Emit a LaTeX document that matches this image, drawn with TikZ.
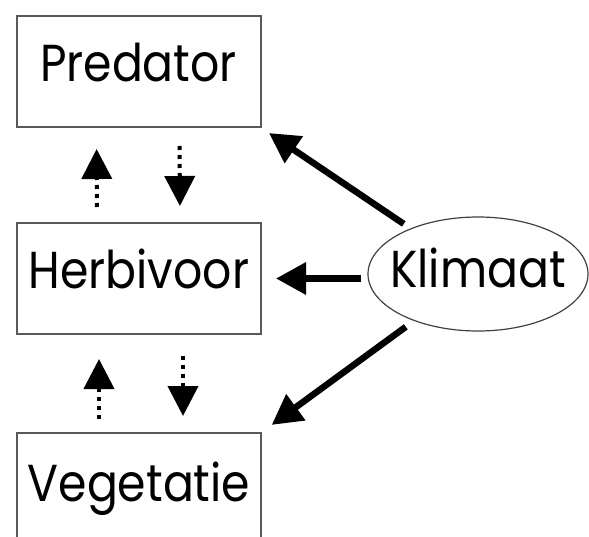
\documentclass[tikz,border=0pt]{standalone}
\usepackage{fontspec}
\setmainfont{Poppins}
\usetikzlibrary{arrows.meta,shapes.geometric}
\newcommand{\lbl}[1]{\makebox[0pt]{\scalebox{0.88}[1]{#1}}}
\begin{document}
\begin{tikzpicture}[x=1pt,y=-1pt,
  box/.style={draw=black!65,line width=2pt,minimum width=244pt,minimum height=111pt,inner sep=0pt,
    font=\fontsize{52}{60}\selectfont,text height=38pt,text depth=18pt},
  klimnode/.style={draw=black!75,ellipse,line width=1.2pt,minimum width=220pt,minimum height=114pt,inner sep=0pt,
    font=\fontsize{52}{60}\selectfont,text height=38pt,text depth=10pt},
  bigarrow/.style={line width=6.5pt,-{Triangle[length=30pt,width=31pt]}},
  dotarrow/.style={line width=4pt,dash pattern=on 4pt off 5pt,-{Triangle[length=30pt,width=30pt]}}
]
\useasboundingbox (0,0) rectangle (589,537);
\clip (0,0) rectangle (589,537);
\node[box] (pred) at (138.5,71.5) {\lbl{Predator}};
\node[box] (herb) at (139,278.5) {\lbl{Herbivoor}};
\node[box,text depth=12pt] (veg) at (139,488.5) {\lbl{Vegetatie}};
\node[klimnode] (klim) at (478,274) {\lbl{Klimaat}};
\draw[bigarrow,shorten <=8pt,shorten >=9pt] (klim) -- (pred.south east);
\draw[bigarrow,shorten >=14pt] ([xshift=-6pt]klim.west |- herb.east) -- (herb.east);
\draw[bigarrow,shorten <=10pt,shorten >=12pt] (klim) -- (veg.north east);
\draw[dotarrow,shorten <=15pt,shorten >=21pt] ([xshift=-42pt]herb.north) -- ([xshift=-42pt]pred.south);
\draw[dotarrow,shorten <=18pt,shorten >=16pt] ([xshift=41pt]pred.south) -- ([xshift=41pt]herb.north);
\draw[dotarrow,shorten <=13pt,shorten >=24pt] ([xshift=-40pt]veg.north) -- ([xshift=-40pt]herb.south);
\draw[dotarrow,shorten <=21pt,shorten >=16pt] ([xshift=44pt]herb.south) -- ([xshift=44pt]veg.north);
\end{tikzpicture}
\end{document}
